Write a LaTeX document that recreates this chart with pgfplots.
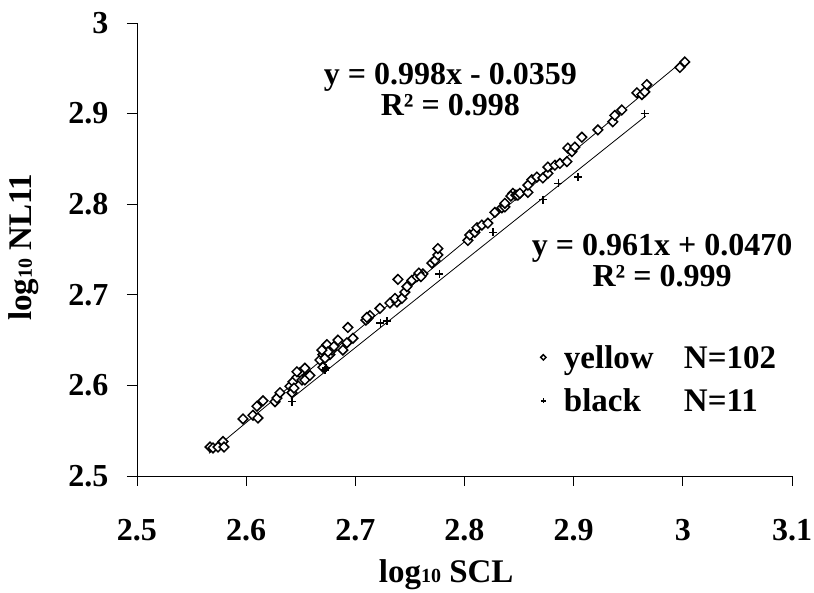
\documentclass[border=0pt]{standalone}
\usepackage{pgfplots}
\pgfplotsset{compat=1.18}
\usepackage{pgfplotstable}
\usepackage{fontspec}
\setmainfont{Liberation Serif}

\newcommand{\tickfont}{\fontsize{32}{32}\selectfont\bfseries}
\newcommand{\eqfont}{\fontsize{32}{31}\selectfont\bfseries}
\newcommand{\labfont}{\fontsize{33}{33}\selectfont\bfseries}
\newcommand{\sub}[1]{{\fontsize{20}{20}\selectfont #1}}

% small marks in the legend
\pgfplotsset{small legend mark/.style={legend image code/.code={%
    \draw[##1, /tikz/every mark/.append style={scale=#1}] plot coordinates {(0cm,0cm)};}}}

% log10 SCL, log10 NL11
\pgfplotstableread{
x y
2.5669 2.532
2.5696 2.531
2.5742 2.532
2.5788 2.538
2.5797 2.532
2.5971 2.563
2.6062 2.567
2.6099 2.577
2.6108 2.564
2.6154 2.583
2.6264 2.582
2.6282 2.586
2.6310 2.592
2.6401 2.599
2.6419 2.592
2.6429 2.604
2.6438 2.597
2.6465 2.609
2.6493 2.614
2.6511 2.606
2.6465 2.615
2.6538 2.619
2.6538 2.606
2.6584 2.611
2.6703 2.620
2.6676 2.628
2.6703 2.634
2.6731 2.637
2.6749 2.641
2.6767 2.634
2.6722 2.630
2.6786 2.639
2.6740 2.645
2.6749 2.637
2.6694 2.639
2.6804 2.643
2.6841 2.650
2.6886 2.639
2.6923 2.647
2.6978 2.652
2.6932 2.664
2.7115 2.674
2.7097 2.672
2.7134 2.677
2.7106 2.675
2.7225 2.685
2.7317 2.691
2.7381 2.692
2.7363 2.696
2.7427 2.696
2.7454 2.703
2.7473 2.709
2.7390 2.717
2.7518 2.716
2.7592 2.722
2.7564 2.720
2.7619 2.723
2.7582 2.724
2.7601 2.720
2.7701 2.735
2.7729 2.738
2.7756 2.744
2.7756 2.751
2.8031 2.760
2.8049 2.766
2.8095 2.769
2.8114 2.774
2.8159 2.777
2.8214 2.779
2.8278 2.791
2.8342 2.796
2.8370 2.797
2.8370 2.801
2.8443 2.812
2.8425 2.809
2.8471 2.810
2.8489 2.810
2.8507 2.812
2.8581 2.813
2.8581 2.821
2.8617 2.827
2.8663 2.830
2.8718 2.829
2.8764 2.834
2.8764 2.841
2.8828 2.843
2.8874 2.845
2.8938 2.847
2.8947 2.862
2.8984 2.858
2.9011 2.863
2.9075 2.874
2.9222 2.882
2.9359 2.891
2.9377 2.898
2.9441 2.904
2.9579 2.923
2.9625 2.921
2.9652 2.924
2.9670 2.932
2.9973 2.951
3.0018 2.957
}\yellowdata

\pgfplotstableread{
x y
2.642 2.582
2.672 2.617
2.673 2.619
2.723 2.669
2.729 2.671
2.777 2.723
2.826 2.769
2.872 2.805
2.886 2.823
2.904 2.830
2.965 2.900
}\blackdata

\begin{document}
\begin{tikzpicture}
\path[use as bounding box] (-137pt,-117pt) rectangle (677pt,476pt);
\begin{axis}[
    at={(0,0)}, anchor=south west,
    scale only axis,
    width=655pt, height=453pt,
    xmin=2.5, xmax=3.1, ymin=2.5, ymax=3,
    axis x line*=bottom, axis y line*=left,
    axis line style={-, line width=0.8pt},
    xtick={2.5,2.6,2.7,2.8,2.9,3,3.1},
    ytick={2.5,2.6,2.7,2.8,2.9,3},
    tick align=outside,
    major tick length=10pt,
    tick style={line width=0.8pt, black},
    /pgf/number format/assume math mode=true,
    tick label style={font=\tickfont},
    xticklabel style={yshift=-30pt},
    yticklabel style={xshift=-15pt},
    xlabel={log\sub{10} SCL},
    ylabel={log\sub{10} NL11},
    every axis x label/.style={at={(axis description cs:0.472,0)}, anchor=center,
        yshift=-99pt, font=\labfont},
    every axis y label/.style={at={(axis description cs:-0.1725,0.505)}, anchor=center,
        rotate=90, font=\labfont},
    clip=false,
    legend style={draw=none, fill=none, font=\labfont, at={(0.616,0.214)}, anchor=west,
        row sep=15pt, column sep=16pt, inner sep=0pt},
    legend cell align=left,
]
\addplot[only marks, mark=square*, mark size=3.4pt,
    mark options={rotate=45, fill=white, draw=black, line width=1.5pt},
    small legend mark=0.55]
    table {\yellowdata};
\addlegendentry{\makebox[120pt][l]{yellow}N=102}
\addplot[only marks, mark=+, mark size=4pt, mark options={line width=1.5pt},
    small legend mark=0.6]
    table {\blackdata};
\addlegendentry{\makebox[120pt][l]{black}N=11}

\addplot[black, line width=0.8pt, forget plot] coordinates {(2.566,2.5250) (3.003,2.9611)};
\addplot[black, line width=0.8pt, forget plot] coordinates {(2.641,2.5850) (2.966,2.8973)};

\node[font=\eqfont, align=center] at (axis cs:2.787,2.926) {y = 0.998x - 0.0359\\R² = 0.998};
\node[font=\eqfont, align=center] at (axis cs:2.981,2.738) {y = 0.961x + 0.0470\\R² = 0.999};
\end{axis}
\end{tikzpicture}
\end{document}
